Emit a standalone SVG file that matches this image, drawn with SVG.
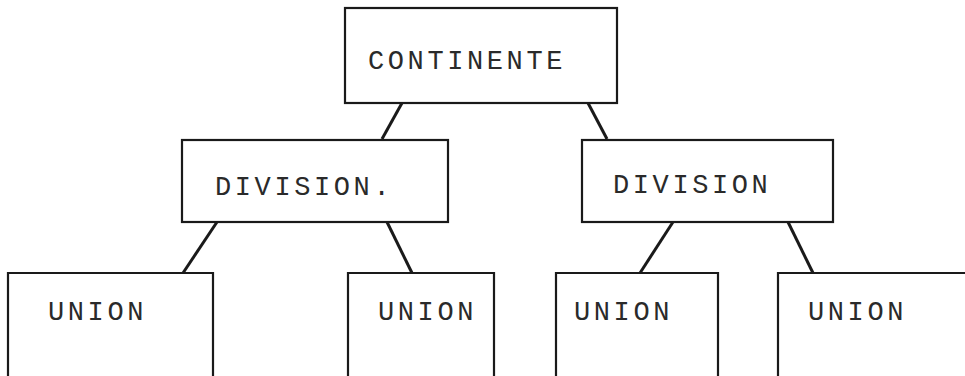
<svg xmlns="http://www.w3.org/2000/svg" width="965" height="376" viewBox="0 0 965 376">
<style>
.box{fill:none;stroke:#1a1a1a;stroke-width:2.2}
.lbl{font-family:"Liberation Mono","Courier New",monospace;font-size:27px;letter-spacing:3.6px;fill:#2a2a2a}
.con{stroke:#1a1a1a;stroke-width:3;fill:none}
</style>
<rect width="965" height="376" fill="#fff"/>
<g id="connectors">
<line class="con" x1="402" y1="103" x2="382" y2="139"/>
<line class="con" x1="588" y1="103" x2="607" y2="139"/>
<line class="con" x1="217" y1="222" x2="183" y2="273"/>
<line class="con" x1="387" y1="222" x2="412" y2="273"/>
<line class="con" x1="673" y1="222" x2="640" y2="273"/>
<line class="con" x1="788" y1="222" x2="813" y2="273"/>
</g>
<g id="continente">
<rect class="box" x="345" y="8" width="272" height="95"/>
<text class="lbl" x="368" y="69">CONTINENTE</text>
</g>
<g id="division1">
<rect class="box" x="182" y="140" width="266" height="82"/>
<text class="lbl" x="215" y="195">DIVISION.</text>
</g>
<g id="division2">
<rect class="box" x="582" y="140" width="251" height="82"/>
<text class="lbl" x="613" y="193">DIVISION</text>
</g>
<g id="union1">
<polyline class="box" points="8,380 8,273 213,273 213,380"/>
<text class="lbl" x="48" y="320">UNION</text>
</g>
<g id="union2">
<polyline class="box" points="348,380 348,273 494,273 494,380"/>
<text class="lbl" x="378" y="320">UNION</text>
</g>
<g id="union3">
<polyline class="box" points="556,380 556,273 718,273 718,380"/>
<text class="lbl" x="574" y="320">UNION</text>
</g>
<g id="union4">
<polyline class="box" points="778,380 778,273 970,273"/>
<text class="lbl" x="808" y="320">UNION</text>
</g>
</svg>
